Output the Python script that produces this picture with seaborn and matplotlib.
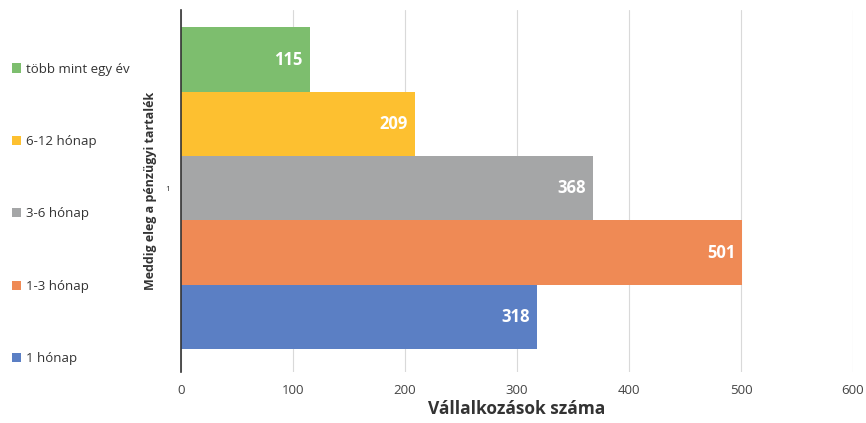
"""Pénzügyi tartalék – vízszintes oszlopdiagram."""

import matplotlib
matplotlib.use("Agg")
import matplotlib.pyplot as plt
from matplotlib.patches import Patch
import pandas as pd
import seaborn as sns

# adatok
CATEGORIES = ["több mint egy év", "6-12 hónap", "3-6 hónap", "1-3 hónap", "1 hónap"]
VALUES = [115, 209, 368, 501, 318]
COLORS = ["#7DBE6E", "#FDC030", "#A5A6A7", "#EF8A55", "#5B7FC4"]
GROUP = ["1"] * len(CATEGORIES)
XTICKS = [0, 100, 200, 300, 400, 500, 600]

sns.set_theme(style="white")
plt.rcParams["font.family"] = ["Open Sans", "DejaVu Sans"]

df = pd.DataFrame({"group": GROUP, "tartalek": CATEGORIES, "db": VALUES})

fig = plt.figure(figsize=(8.66, 4.23), dpi=100)
ax = fig.add_axes([0.209, 0.1206, 0.776, 0.855])

sns.barplot(
    data=df, x="db", y="group", hue="tartalek", hue_order=CATEGORIES,
    palette=COLORS, orient="h", width=1.0, dodge=True, legend=False,
    saturation=1, edgecolor="none", ax=ax,
)

# értékcímkék a sávok végén
for patch, val in zip(ax.patches, VALUES):
    ax.annotate(
        f"{val}", (patch.get_width(), patch.get_y() + patch.get_height() / 2),
        textcoords="offset points", xytext=(-5, 0),
        ha="right", va="center", color="white", fontsize=12, fontweight="bold",
    )

ax.set_xlim(0, 600)
ax.set_ylim(0.571, -0.553)
ax.set_xticks(XTICKS)
ax.tick_params(axis="x", labelsize=9.5, colors="#444444", length=0, pad=9)
ax.tick_params(axis="y", labelsize=6, colors="#333333", length=0, pad=8)
ax.grid(axis="x", color="#D9D9D9", linewidth=0.8)
ax.set_axisbelow(True)
for side in ["top", "right", "bottom"]:
    ax.spines[side].set_visible(False)
ax.spines["left"].set_color("#333333")
ax.spines["left"].set_linewidth(1.2)

ax.set_xlabel("Vállalkozások száma", fontsize=12.5, fontweight="bold", color="#333333", labelpad=2)
ax.set_ylabel("Meddig eleg a pénzügyi tartalék", fontsize=9, fontweight="bold", color="#333333", labelpad=6)

handles = [Patch(facecolor=c, edgecolor="none") for c in COLORS]
fig.legend(
    handles, CATEGORIES, loc="upper left", bbox_to_anchor=(0.0, 0.88),
    frameon=False, fontsize=9.5, handlelength=0.7, handleheight=0.7,
    handletextpad=0.4, labelspacing=4.5, labelcolor="#333333",
)

fig.savefig("out.png", dpi=100)
